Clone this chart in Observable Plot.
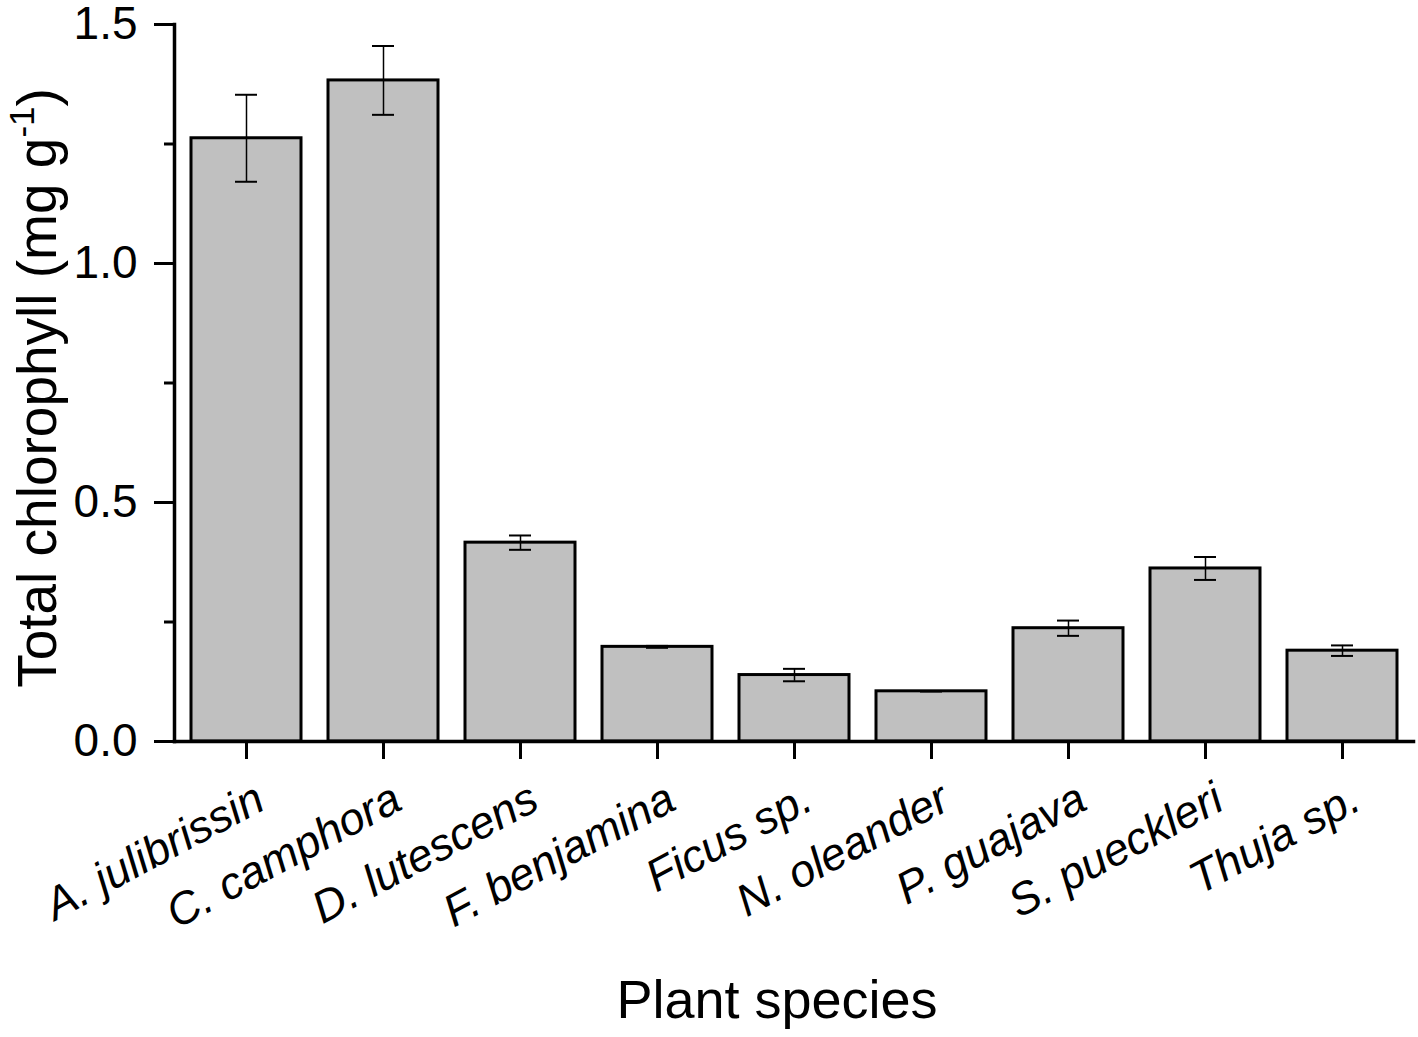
<!DOCTYPE html>
<html>
<head>
<meta charset="utf-8">
<script src="https://cdn.jsdelivr.net/npm/d3@7"></script>
<script src="https://cdn.jsdelivr.net/npm/@observablehq/plot@0.6"></script>
<style>
  html, body { margin: 0; padding: 0; background: white; }
  #chart svg { display: block; }
</style>
</head>
<body>
<div id="chart"></div>
<script>
const categories = ["A. julibrissin", "C. camphora", "D. lutescens", "F. benjamina", "Ficus sp.", "N. oleander", "P. guajava", "S. pueckleri", "Thuja sp."];
const means = [1.262, 1.383, 0.416, 0.198, 0.139, 0.105, 0.237, 0.362, 0.190];
const errors = [0.091, 0.072, 0.015, 0.002, 0.013, 0.0, 0.016, 0.024, 0.011];
const majorTicks = [0, 0.5, 1.0, 1.5];
const minorTicks = [0.25, 0.75, 1.25];
const yTitle = "Total chlorophyll (mg g-1)";
const xTitle = "Plant species";

const data = categories.map((c, i) => ({species: c, mean: means[i], lo: means[i] - errors[i], hi: means[i] + errors[i]}));

const chart = Plot.plot({
  width: 1418,
  height: 1037,
  marginLeft: 174,
  marginRight: 5,
  marginTop: 24,
  marginBottom: 296,
  style: {fontFamily: "'Liberation Sans', Arial, Helvetica, sans-serif", fontSize: "46px", color: "black", background: "white"},
  x: {domain: categories, paddingInner: 0.2, paddingOuter: 0.1, axis: null},
  y: {domain: [0, 1.5], axis: null},
  marks: [
    Plot.barY(data, {x: "species", y: "mean", fill: "#c0c0c0", stroke: "black", strokeWidth: 3}),
    Plot.ruleX(data, {x: "species", y1: "lo", y2: "hi", stroke: "black", strokeWidth: 1.5}),
    Plot.tickY(data, {x: "species", y: "hi", stroke: "black", strokeWidth: 2, insetLeft: 44, insetRight: 44}),
    Plot.tickY(data, {x: "species", y: "lo", stroke: "black", strokeWidth: 2, insetLeft: 44, insetRight: 44}),
    Plot.axisY({ticks: majorTicks, tickSize: 20, tickPadding: 17, tickFormat: d3.format(".1f"), strokeWidth: 3, fontSize: 46, label: null}),
    Plot.axisY({ticks: minorTicks, tickSize: 10, tickFormat: () => "", fill: "none", strokeWidth: 3, label: null}),
    Plot.axisX({tickSize: 18, tickFormat: () => "", fill: "none", strokeWidth: 3, label: null}),
    Plot.axisX({tickSize: 0, tickPadding: 54, tickRotate: -28, dx: 14, fontSize: 45, fontStyle: "italic", label: null}),
    Plot.frame({anchor: "left", strokeWidth: 3.5}),
    Plot.frame({anchor: "bottom", strokeWidth: 3.5}),
    Plot.text([xTitle], {frameAnchor: "bottom", textAnchor: "middle", lineAnchor: "middle", dx: -17, dy: 259, fontSize: 54}),
    Plot.text([yTitle], {frameAnchor: "left", textAnchor: "middle", lineAnchor: "middle", rotate: -90, dx: -136, dy: 5, fontSize: 55})
  ]
});

document.getElementById("chart").appendChild(chart);

// render the "-1" of the y title as a superscript
d3.select(chart).selectAll("text").each(function() {
  if (this.textContent === yTitle) {
    const t = d3.select(this);
    t.text(null);
    t.append("tspan").text("Total chlorophyll (mg g");
    t.append("tspan").attr("dy", "-22px").attr("font-size", "35px").text("-1");
    t.append("tspan").attr("dy", "22px").text(")");
  }
});
</script>
</body>
</html>
